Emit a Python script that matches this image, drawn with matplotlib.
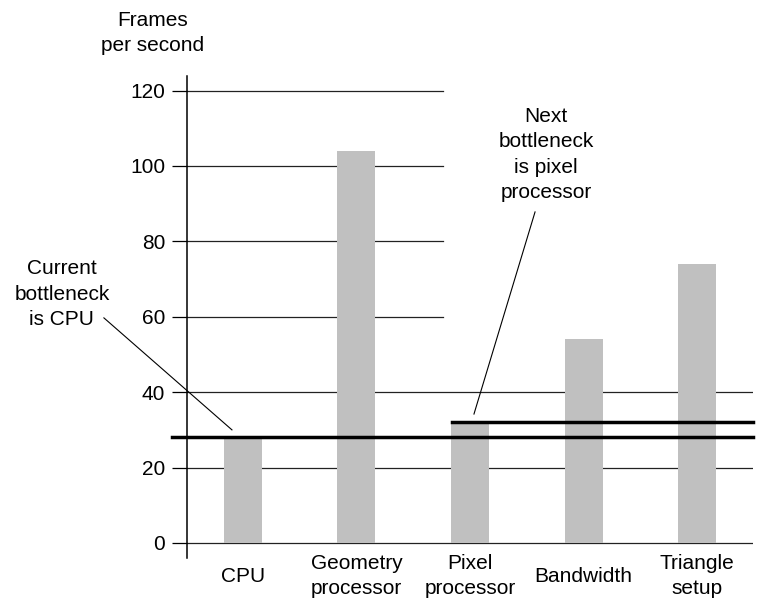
import matplotlib
matplotlib.use("Agg")
import matplotlib.pyplot as plt

# datos
categorias = ["CPU", "Geometry\nprocessor", "Pixel\nprocessor", "Bandwidth", "Triangle\nsetup"]
fps = [28, 104, 32, 54, 74]
ticks_y = [0, 20, 40, 60, 80, 100, 120]
cuello_actual = 28
cuello_siguiente = 32

plt.rcParams['font.family'] = ['Liberation Sans', 'DejaVu Sans']
plt.rcParams['font.size'] = 15

W, H = 759, 601
fig = plt.figure(figsize=(W / 100, H / 100), dpi=100)
# ejes colocados en pixeles
izq, der, arr, aba = 187, 753, 76, 558
ax = fig.add_axes([izq / W, (H - aba) / H, (der - izq) / W, (aba - arr) / H])

x = list(range(len(categorias)))
ax.bar(x, fps, width=0.335, color='#c0c0c0', zorder=1)

ax.set_xlim(-0.493, 4.493)
ax.set_ylim(-3.98, 123.85)

for s in ['top', 'right', 'bottom']:
    ax.spines[s].set_visible(False)
ax.spines['left'].set_linewidth(1.1)

ax.set_yticks(ticks_y)
ax.tick_params(axis='y', direction='out', length=10.8, width=0.9, pad=5)
ax.set_xticks(x)
ax.set_xticklabels(categorias, linespacing=1.42)
ax.tick_params(axis='x', length=0, pad=13)
for lab in ax.get_xticklabels():
    lab.set_va('center')

# lineas horizontales
for v in ticks_y:
    fin = 1.0 if v <= 40 else 0.452
    ax.axhline(v, xmin=0, xmax=fin, color='#222222', lw=0.9, zorder=0)

# cuellos de botella
ax.axhline(cuello_actual, xmin=-0.0265, xmax=1.0, color='black', lw=2.5, clip_on=False, zorder=3)
ax.axhline(cuello_siguiente, xmin=0.468, xmax=1.0, color='black', lw=2.5, clip_on=False, zorder=3)

# textos
ax.text(-0.80, 135.2, "Frames\nper second", ha='center', va='center', linespacing=1.42)
ax.text(-1.595, 66.0, "Current\nbottleneck\nis CPU", ha='center', va='center', linespacing=1.42)
ax.text(2.670, 103.0, "Next\nbottleneck\nis pixel\nprocessor", ha='center', va='center', linespacing=1.42)

ax.plot([-1.225, -0.097], [59.7, 30.0], color='black', lw=0.8, clip_on=False)
ax.plot([2.573, 2.035], [87.8, 34.2], color='black', lw=0.8, clip_on=False)

plt.savefig("out.png", dpi=100)
